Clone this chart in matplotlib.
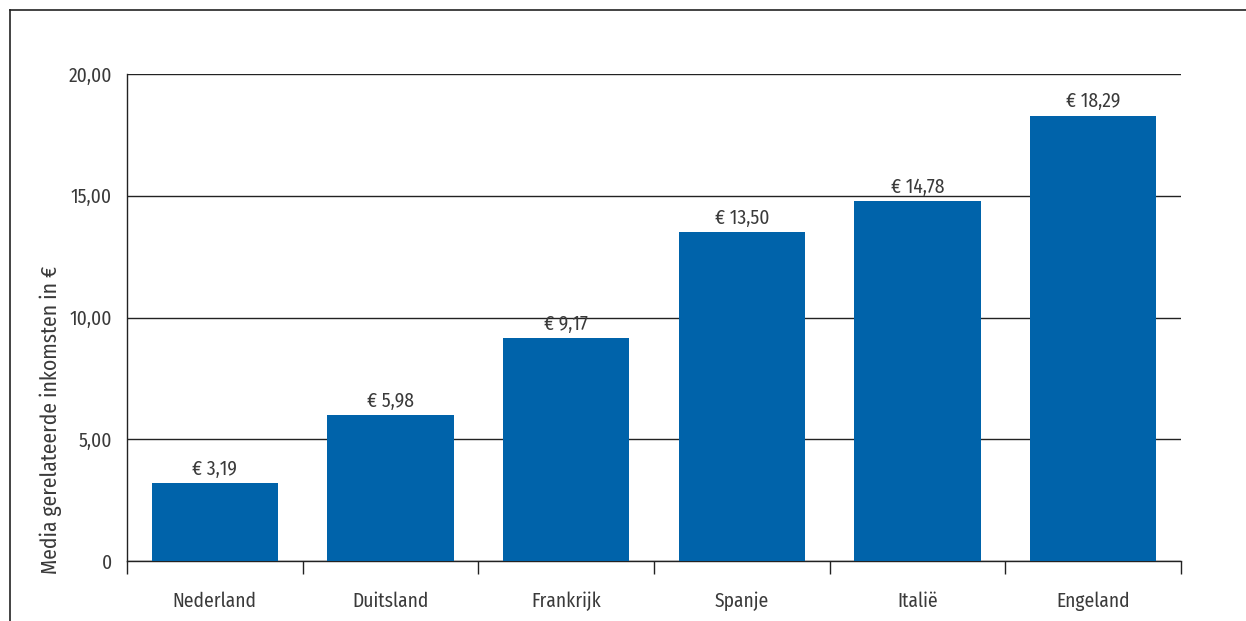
import matplotlib
matplotlib.use("Agg")
import matplotlib.pyplot as plt
from matplotlib import font_manager
from matplotlib.lines import Line2D
import numpy as np

countries = ["Nederland", "Duitsland", "Frankrijk", "Spanje", "Italië", "Engeland"]
values = [3.19, 5.98, 9.17, 13.50, 14.78, 18.29]
y_ticks = [0, 5, 10, 15, 20]
y_tick_labels = ["0", "5,00", "10,00", "15,00", "20,00"]
y_label = "Media gerelateerde inkomsten in €"

# pick a narrow sans family from what is installed
installed = {f.name for f in font_manager.fontManager.ttflist}
candidates = ["Fira Sans Condensed", "PT Sans Narrow", "Sofia Sans Condensed",
              "Archivo Narrow", "Saira SemiCondensed"]
narrow = next((c for c in candidates if c in installed), "DejaVu Sans")
plt.rcParams["font.family"] = [narrow, "DejaVu Sans"]

text_color = "#3a3a3a"
line_color = "#222222"
bar_color = "#0063AA"
fs = 14

fig = plt.figure(figsize=(12.46, 6.21), dpi=100)
ax = fig.add_axes([127 / 1246, 60 / 621, 1054 / 1246, 487 / 621])

x = np.arange(len(countries))
ax.bar(x, values, width=0.72, color=bar_color, zorder=3)

for xi, v in zip(x, values):
    label = "€ " + f"{v:.2f}".replace(".", ",")
    ax.annotate(label, (xi, v), xytext=(0, 3), textcoords="offset points",
                ha="center", va="bottom", fontsize=fs, color=text_color, zorder=4)

ax.set_xlim(-0.5, len(countries) - 0.5)
ax.set_ylim(0, 20)
ax.set_yticks(y_ticks)
ax.set_yticklabels(y_tick_labels)
ax.yaxis.grid(True, color=line_color, linewidth=1.0, zorder=1)
ax.set_axisbelow(True)

ax.set_xticks(x)
ax.set_xticklabels(countries)
ax.set_xticks(np.arange(-0.5, len(countries)), minor=True)
ax.tick_params(axis="x", which="major", length=0, pad=22, labelsize=fs, labelcolor=text_color)
ax.tick_params(axis="x", which="minor", length=9, width=1.0, color=line_color)
ax.tick_params(axis="y", length=0, pad=11, labelsize=fs, labelcolor=text_color)

for side in ["top", "right"]:
    ax.spines[side].set_visible(False)
for side in ["left", "bottom"]:
    ax.spines[side].set_color(line_color)
    ax.spines[side].set_linewidth(1.0)

fig.text(51 / 1246, 1 - 420 / 621, y_label, rotation=90, ha="center", va="center",
         fontsize=15.5, color=text_color)

# outer frame lines
fx = 9.5 / 1246
fy = 1 - 9.5 / 621
fig.add_artist(Line2D([fx, fx], [0, fy], transform=fig.transFigure, color=line_color, linewidth=1.2))
fig.add_artist(Line2D([fx, 1], [fy, fy], transform=fig.transFigure, color=line_color, linewidth=1.2))

fig.savefig("out.png", dpi=100)
